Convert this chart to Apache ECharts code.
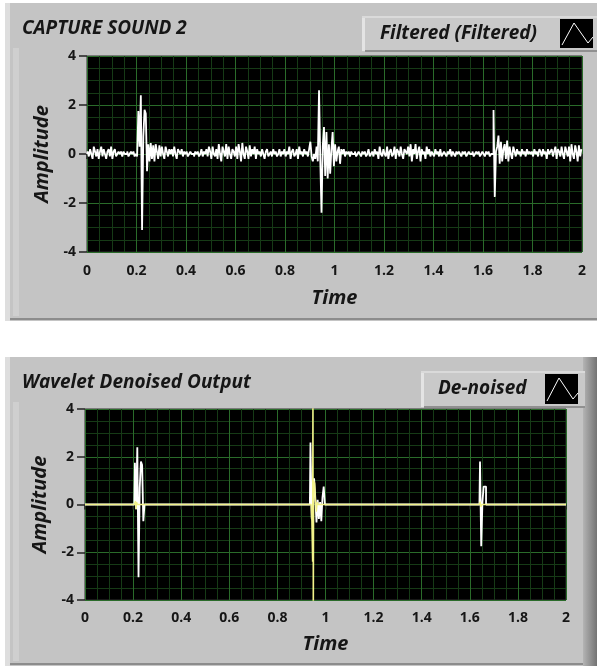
<!DOCTYPE html>
<html><head><meta charset="utf-8">
<script src="https://cdn.jsdelivr.net/npm/echarts@6/dist/echarts.min.js"></script>
<style>html,body{margin:0;padding:0;background:#fff}#c{width:597px;height:666px}</style>
</head><body><div id="c"></div>
<script>
// ---- data ----
const titleTop = 'CAPTURE SOUND 2';
const titleBottom = 'Wavelet Denoised Output';
const legendTop = 'Filtered (Filtered)';
const legendBottom = 'De-noised';
const xName = 'Time';
const yName = 'Amplitude';
const xTickValues = [0, 0.2, 0.4, 0.6, 0.8, 1, 1.2, 1.4, 1.6, 1.8, 2];
const yTickValues = [-4, -2, 0, 2, 4];
const sampleStep = 0.005; // seconds between samples of the filtered trace
const filteredValues = [
 0.0,0.1,-0.1,0.2,0.0,-0.2,0.3,0.1,-0.1,0.2,-0.2,0.1,0.3,-0.1,0.2,0.0,-0.2,0.1,0.2,-0.1,
 0.3,-0.2,0.1,0.2,-0.1,0.0,0.1,0.0,0.1,-0.1,0.1,0.0,0.0,0.1,-0.1,0.0,0.1,0.0,0.1,-0.1,
 0.0,-0.1,1.75,0.3,2.4,-3.1,0.7,1.8,1.65,-0.7,0.4,-0.3,0.45,-0.2,0.35,-0.3,0.4,0.1,-0.2,0.35,
 -0.1,0.3,0.0,-0.2,0.3,0.1,-0.1,0.2,0.0,0.2,-0.1,0.3,0.0,-0.2,0.2,0.1,0.0,0.2,-0.1,0.1,
 0.0,0.1,-0.1,0.0,0.1,0.0,0.0,-0.1,0.1,0.0,0.1,-0.1,0.0,0.2,-0.1,0.1,0.0,0.2,-0.1,0.3,
 0.1,-0.2,0.3,0.0,-0.1,0.2,-0.2,0.4,0.0,-0.3,0.3,0.1,-0.1,0.4,-0.2,0.3,0.0,-0.2,0.2,0.1,
 -0.1,0.3,-0.2,0.4,0.1,-0.3,0.45,0.0,-0.2,0.3,0.1,-0.2,0.35,-0.1,0.2,0.0,0.3,-0.2,0.2,0.0,
 0.1,-0.1,0.2,0.0,-0.2,0.1,0.2,-0.1,0.0,0.1,-0.1,0.2,0.0,0.1,-0.1,0.0,0.2,-0.1,0.1,0.0,
 0.2,-0.1,0.1,0.0,0.3,-0.2,0.1,0.2,-0.1,0.0,0.2,-0.2,0.3,0.0,0.1,-0.1,0.2,0.0,0.1,-0.1,
 0.2,0.5,-0.1,-0.3,0.0,-0.2,0.3,-0.3,2.6,-0.2,-2.4,0.3,1.1,-0.9,0.9,-1.0,0.4,-0.8,0.2,0.9,
 -0.5,0.4,-0.3,0.1,0.3,-0.4,0.2,0.0,0.2,-0.1,0.1,0.0,0.1,-0.1,0.1,0.0,0.0,0.1,-0.1,0.0,
 0.1,0.0,-0.1,0.1,0.0,0.1,-0.1,0.0,0.2,-0.1,0.0,0.1,-0.1,0.2,0.0,0.1,-0.2,0.3,0.0,-0.1,
 0.2,0.0,-0.1,0.3,-0.2,0.1,0.2,-0.1,0.0,0.3,-0.2,0.2,0.1,-0.1,0.3,0.0,-0.2,0.2,0.1,0.0,
 0.3,-0.1,0.4,-0.3,0.2,0.0,0.4,-0.2,0.1,0.3,-0.3,0.2,0.0,0.1,-0.2,0.3,0.0,0.2,-0.1,0.1,
 0.0,-0.1,0.2,0.0,0.1,-0.1,0.2,-0.1,0.0,0.1,0.0,-0.1,0.1,0.0,0.2,-0.1,0.1,0.0,-0.1,0.1,
 0.0,0.1,0.0,-0.1,0.1,0.0,0.1,-0.1,0.0,0.1,0.0,0.0,0.1,-0.1,0.0,0.1,0.0,0.1,-0.1,0.0,
 0.1,0.0,-0.1,0.1,0.0,0.1,-0.1,0.0,0.0,1.8,-1.75,0.1,0.3,0.75,-0.4,0.5,-0.3,0.2,0.4,-0.2,
 0.55,-0.3,0.3,0.0,-0.2,0.3,0.1,-0.1,0.2,0.0,0.1,-0.1,0.2,0.0,0.1,-0.1,0.2,0.0,0.1,0.0,
 0.1,-0.1,0.2,0.0,0.1,-0.1,0.2,0.1,-0.1,0.2,0.0,0.1,-0.2,0.2,0.0,0.1,0.2,-0.1,0.1,0.3,
 -0.2,0.2,0.1,-0.1,0.3,0.0,-0.2,0.3,0.1,-0.1,0.3,-0.3,0.4,0.0,-0.2,0.35,0.1,-0.3,0.35,-0.1,
 0.2
];
const denoisedTimes  = [0, 0.205, 0.21, 0.215, 0.22, 0.225, 0.23, 0.235, 0.24, 0.245, 0.25,
  0.935, 0.94, 0.945, 0.95, 0.955, 0.96, 0.965, 0.97, 0.975, 0.98, 0.985, 0.99, 0.995, 1.0,
  1.64, 1.645, 1.65, 1.655, 1.66, 1.665, 1.67, 2.0];
const denoisedValues = [0, 0, 1.75, -0.2, 2.4, -3.05, 0.7, 1.8, 1.65, -0.7, 0,
  0, 2.6, -0.6, -0.3, 1.1, 0.3, -0.75, 0.2, -0.6, 0.1, -0.7, 0.3, 0.75, 0,
  0, 1.8, -1.75, 0.1, 0.75, 0.75, 0, 0];
const markerTimes  = [0, 0.205, 0.21, 0.212, 0.215, 0.218, 0.94, 0.943, 0.946, 0.948, 0.949, 0.951, 0.955, 0.958, 0.962, 0.966, 0.97, 1.64, 1.643, 1.646, 1.65, 2.0];
const markerValues = [0, 0, 0.15, -0.2, 0.1, 0, 0, -0.7, -2.4, 9, -9, 1.0, 0.9, 0.2, -0.3, 0.1, 0, 0, 0.12, -0.1, 0, 0];

// ---- build ----
const filteredData = filteredValues.map((v, i) => [+(i * sampleStep).toFixed(3), v]);
const denoisedData = denoisedTimes.map((t, i) => [t, denoisedValues[i]]);
const markerData = markerTimes.map((t, i) => [t, markerValues[i]]);

const FONT = '"Open Sans", "Noto Sans", sans-serif';
const TXT = '#161616';
const MAJOR = '#2a6b2a';
const MINOR = '#163a16';

function xAxisCfg(gridIndex, offset, nameGap) {
  return {
    type: 'value', gridIndex, min: xTickValues[0], max: xTickValues[xTickValues.length - 1],
    interval: xTickValues[1] - xTickValues[0], offset,
    axisLine: { show: false },
    axisTick: { show: true, length: 5, lineStyle: { color: '#222', width: 1.5 } },
    axisLabel: { color: TXT, fontSize: 14, fontWeight: 'bold', fontFamily: FONT, margin: 9,
      formatter: v => String(+(+v).toFixed(1)) },
    splitLine: { show: true, lineStyle: { color: MAJOR, width: 1 } },
    minorTick: { show: false, splitNumber: 4 },
    minorSplitLine: { show: true, lineStyle: { color: MINOR, width: 1 } },
    name: xName, nameLocation: 'middle', nameGap,
    nameTextStyle: { color: TXT, fontSize: 20, fontWeight: 'bold', fontStyle: 'italic', fontFamily: FONT }
  };
}
function yAxisCfg(gridIndex, nameGap) {
  return {
    type: 'value', gridIndex, min: yTickValues[0], max: yTickValues[yTickValues.length - 1],
    interval: yTickValues[1] - yTickValues[0], offset: 1,
    axisLine: { show: false },
    axisTick: { show: true, length: 8, lineStyle: { color: '#222', width: 1.5 } },
    axisLabel: { color: TXT, fontSize: 14, fontWeight: 'bold', fontFamily: FONT, margin: 10 },
    splitLine: { show: true, lineStyle: { color: MAJOR, width: 1 } },
    minorTick: { show: false, splitNumber: 4 },
    minorSplitLine: { show: true, lineStyle: { color: MINOR, width: 1 } },
    name: yName, nameLocation: 'middle', nameGap, nameRotate: 90,
    nameTextStyle: { color: TXT, fontSize: 20, fontWeight: 'bold', fontStyle: 'italic', fontFamily: FONT }
  };
}

function panel(y, h, w) {
  return [
    { type: 'rect', z: -10, shape: { x: 5, y, width: w, height: h }, style: { fill: '#c4c4c4' } },
    { type: 'rect', z: -9, shape: { x: 5, y, width: 5, height: h }, style: { fill: '#dedede' } },
    { type: 'rect', z: -9, shape: { x: 13, y: y + 45, width: 6, height: h - 50 }, style: { fill: '#cfcfcf' } },
    { type: 'rect', z: -9, shape: { x: 10, y: y + h - 3, width: w - 5, height: 2 }, style: { fill: '#8c8c8c' } }
  ];
}
function legendBox(x, y, w, h, label, textX, iconX) {
  return [
    { type: 'rect', z: -8, shape: { x, y, width: w, height: h }, style: { fill: '#c9c9c9' } },
    { type: 'rect', z: -7, shape: { x, y, width: 3, height: h }, style: { fill: '#e4e4e4' } },
    { type: 'rect', z: -7, shape: { x, y, width: w, height: 2 }, style: { fill: '#dadada' } },
    { type: 'rect', z: -7, shape: { x: x + 3, y: y + h - 1, width: w - 3, height: 2 }, style: { fill: '#909090' } },
    { type: 'text', z: 5, x: textX, y: y + h / 2, style: { text: label, fill: TXT, fontSize: 19,
      fontWeight: 'bold', fontStyle: 'italic', fontFamily: FONT, verticalAlign: 'middle' } },
    { type: 'rect', z: 5, shape: { x: iconX, y: y + 3, width: 33, height: h - 6 }, style: { fill: '#000' } },
    { type: 'polyline', z: 6, shape: { points: [[iconX + 2, y + h - 6], [iconX + 14, y + 7], [iconX + 28, y + h - 8], [iconX + 33, y + h - 14]] },
      style: { stroke: '#fff', lineWidth: 1, fill: null } }
  ];
}

const graphics = [].concat(
  panel(3, 318, 592),
  panel(357, 309, 578),
  [{ type: 'rect', z: -9, shape: { x: 583, y: 357, width: 14, height: 309 },
     style: { fill: new echarts.graphic.LinearGradient(0, 0, 1, 0, [{ offset: 0, color: '#b4b4b4' }, { offset: 1, color: '#737373' }]) } }],
  legendBox(362, 16, 235, 35, legendTop, 380, 560),
  legendBox(421, 371, 164, 36, legendBottom, 438, 545),
  [
    { type: 'text', z: 5, x: 22, y: 29, style: { text: titleTop, fill: TXT, fontSize: 19, fontWeight: 'bold', fontStyle: 'italic', fontFamily: FONT, verticalAlign: 'middle' } },
    { type: 'text', z: 5, x: 22, y: 383, style: { text: titleBottom, fill: TXT, fontSize: 19, fontWeight: 'bold', fontStyle: 'italic', fontFamily: FONT, verticalAlign: 'middle' } }
  ]
);

const chart = echarts.init(document.getElementById('c'), null, { renderer: 'canvas' });
chart.setOption({
  backgroundColor: '#ffffff',
  animation: false,
  graphic: { elements: graphics },
  grid: [
    { left: 87, top: 56, width: 495, height: 196, show: true, backgroundColor: '#000', borderColor: '#303030', borderWidth: 1 },
    { left: 85, top: 409, width: 481, height: 191, show: true, backgroundColor: '#000', borderColor: '#303030', borderWidth: 1 }
  ],
  xAxis: [xAxisCfg(0, 3, 33), xAxisCfg(1, 2, 32)],
  yAxis: [yAxisCfg(0, 33), yAxisCfg(1, 31)],
  series: [
    { name: legendTop, type: 'line', xAxisIndex: 0, yAxisIndex: 0, data: filteredData, step: 'middle',
      showSymbol: false, lineStyle: { color: '#ffffff', width: 1.8 }, z: 3 },
    { name: legendBottom, type: 'line', xAxisIndex: 1, yAxisIndex: 1, data: denoisedData, step: 'middle',
      showSymbol: false, lineStyle: { color: '#ffffff', width: 1.8 }, z: 3 },
    { name: 'marker', type: 'line', xAxisIndex: 1, yAxisIndex: 1, data: markerData,
      showSymbol: false, clip: true, lineStyle: { color: '#f2f28a', width: 1.3 }, z: 4 }
  ]
});
</script>
</body></html>
